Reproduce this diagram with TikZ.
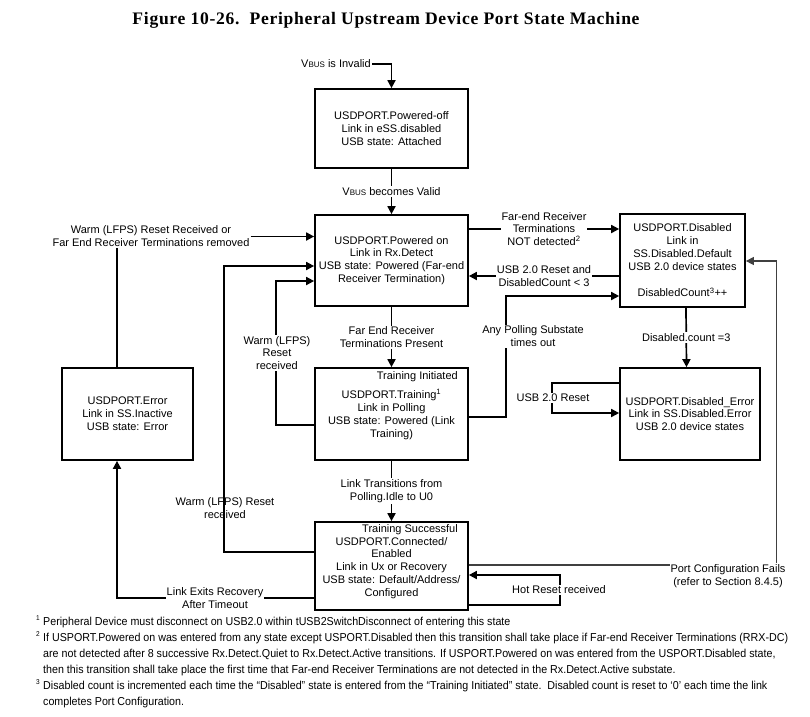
\documentclass[tikz,border=0pt]{standalone}
\usepackage{fontspec}
\setmainfont{Liberation Sans}
\newfontfamily\titlefont[LetterSpace=4]{Liberation Serif}
\newfontfamily\fnfont[FakeStretch=0.93]{Liberation Sans}
\usetikzlibrary{arrows.meta,calc}
\newcommand{\vbus}{V{\fontsize{8}{8}\selectfont BUS}}
\tikzset{
  every node/.style={font=\fontsize{11}{12.9}\selectfont},
  box/.style={draw, line width=1.7pt, inner sep=0pt, align=center},
  txt/.style={align=center, inner sep=1pt},
  lbl/.style={fill=white, align=center, inner sep=1pt},
  ln/.style={draw, line width=1.7pt},
  arr/.style={draw, line width=1.7pt, -{Triangle[length=8pt,width=8pt]}},
  thinarr/.style={draw, line width=1.1pt, draw=black!75, -{Triangle[length=8pt,width=8pt]}},
  fn/.style={font=\fnfont\fontsize{11.5}{12}\selectfont, anchor=base west, inner sep=0pt},
  fnmark/.style={font=\fnfont\fontsize{7}{7}\selectfont, anchor=base west, inner sep=0pt}
}
\begin{document}
\begin{tikzpicture}[x=1pt,y=-1pt]
\useasboundingbox (0,0) rectangle (810,716);
\fill[white] (0,0) rectangle (810,716);

% title
\node[inner sep=0pt] (title) at (386,20)
  {\resizebox{507pt}{!}{\titlefont\bfseries\fontsize{14.5}{16}\selectfont Figure 10-26.\ \ Peripheral Upstream Device Port State Machine}};

% states
\node[box, minimum width=153pt, minimum height=79pt] (off) at (391.5,128.5)
  {USDPORT.Powered-off\\Link in eSS.disabled\\USB state: Attached};
\node[box, minimum width=153pt, minimum height=91pt] (on) at (391.5,260.5)
  {USDPORT.Powered on\\Link in Rx.Detect\\USB state: Powered (Far-end\\Receiver Termination)};
\node[box, minimum width=125pt, minimum height=93pt] (dis) at (682.5,260.5)
  {USDPORT.Disabled\\Link in\\SS.Disabled.Default\\USB 2.0 device states\\[13.5pt]DisabledCount\textsuperscript{3}++};
\node[box, minimum width=131pt, minimum height=92pt] (err) at (127.5,414)
  {USDPORT.Error\\Link in SS.Inactive\\USB state: Error};
\node[box, minimum width=153pt, minimum height=92pt] (trn) at (391.5,414) {};
\node[txt] (trntext) at (391.5,414.5)
  {USDPORT.Training\textsuperscript{1}\\Link in Polling\\USB state: Powered (Link\\Training)};
\node[txt, anchor=east] (tinit) at (459,377) {Training Initiated};
\node[box, minimum width=140pt, minimum height=92pt] (derr) at (690,414)
  {USDPORT.Disabled\_Error\\Link in SS.Disabled.Error\\USB 2.0 device states};
\node[box, minimum width=153pt, minimum height=88pt] (con) at (391.5,566) {};
\node[txt] (context) at (391.5,568)
  {USDPORT.Connected/\\Enabled\\Link in Ux or Recovery\\USB state: Default/Address/\\Configured};
\node[txt, anchor=east] (tsucc) at (459,530) {Training Successful};

% helper coordinates
\coordinate (errin) at ($(err.north)+(-10.5,0)$);
\coordinate (errout) at ($(err.south)+(-10.5,0)$);

% VBUS invalid
\node[txt] (vinv) at (336,64) {\vbus{} is Invalid};
\draw[arr] (vinv.east) -| (off.north);

% off -> on
\draw[arr] (off.south) -- (on.north) node[lbl, midway] (vval) {\vbus{} becomes Valid};

% warm reset (top-left)
\node[txt] (w1) at (151,236.5) {Warm (LFPS) Reset Received or\\Far End Receiver Terminations removed};
\draw[arr] (w1.east) -- (w1.east -| on.west);
\draw[ln] (w1.south -| errin) -- (errin);

% connected -> powered on (warm reset)
\draw[arr] ($(con.west)+(0,-14)$) -- ++(-90,0) |- ($(on.west)+(0,5.5)$);
\node[txt] (w3) at (225,508.5) {Warm (LFPS) Reset\\received};

% training -> powered on (warm reset)
\draw[arr] ($(trn.west)+(0,11)$) -- ++(-38,0) |- ($(on.west)+(0,20.5)$);
\node[lbl] (w2) at (277,353) {Warm (LFPS)\\Reset\\received};

% on -> training
\draw[arr] (on.south) -- (trn.north) node[lbl, midway] (fepres) {Far End Receiver\\Terminations Present};

% on -> disabled
\draw[arr] ($(on.east)+(0,-31.5)$) -- ($(dis.west)+(0,-31.5)$)
  node[lbl, midway] (notdet) {Far-end Receiver\\Terminations\\NOT detected\textsuperscript{2}};
% disabled -> on
\draw[arr] ($(dis.west)+(0,15.5)$) -- ($(on.east)+(0,15.5)$)
  node[lbl, midway] (usbrst) {USB 2.0 Reset and\\DisabledCount < 3};

% training -> disabled (polling timeout)
\draw[arr] ($(trn.east)+(0,3)$) -- ++(37,0) |- ($(dis.west)+(0,35.5)$);
\node[lbl] (poll) at (533,336) {Any Polling Substate\\times out};

% disabled -> disabled_error
\draw[arr] ([xshift=3.5pt]dis.south) -- ([xshift=-3.5pt]derr.north)
  node[lbl, midway] (cnt3) {Disabled.count =3};

% disabled_error self loop
\draw[arr] ($(derr.west)+(0,-31)$) -- ++(-67,0) |- ($(derr.west)+(0,-1)$);
\node[lbl] (usb2r) at (553,398) {USB 2.0 Reset};

% training -> connected
\draw[arr] (trn.south) -- (con.north) node[lbl, midway] (ltr) {Link Transitions from\\Polling.Idle to U0};

% connected -> error
\draw[arr] ($(con.west)+(0,32)$) -| (errout);
\node[lbl] (lexit) at (215,598.5) {Link Exits Recovery\\After Timeout};

% hot reset loop
\draw[arr] ($(con.east)+(0,39)$) -- ++(91,0) |- ($(con.east)+(0,9)$);
\node[lbl] (hot) at (559,590) {Hot Reset received};

% port configuration fails
\draw[thinarr] ($(con.east)+(0,-1)$) -- ++(308,0) |- ($(dis.east)+(0,0.5)$);
\node[lbl] (pcf) at (728,576) {Port Configuration Fails\\(refer to Section 8.4.5)};

% footnotes
\node[fnmark] (m1) at (36,620) {1};
\node[fn] (f1) at (43,625) {Peripheral Device must disconnect on USB2.0 within tUSB2SwitchDisconnect of entering this state};
\node[fnmark] (m2) at (36,636) {2};
\node[fn] (f2a) at (43,641) {If USPORT.Powered on was entered from any state except USPORT.Disabled then this transition shall take place if Far-end Receiver Terminations (RRX-DC)};
\node[fn] (f2b) at (43,657) {are not detected after 8 successive Rx.Detect.Quiet to Rx.Detect.Active transitions. If USPORT.Powered on was entered from the USPORT.Disabled state,};
\node[fn] (f2c) at (43,673) {then this transition shall take place the first time that Far-end Receiver Terminations are not detected in the Rx.Detect.Active substate.};
\node[fnmark] (m3) at (36,684) {3};
\node[fn] (f3a) at (43,689) {Disabled count is incremented each time the “Disabled” state is entered from the “Training Initiated” state.\ \ Disabled count is reset to ‘0’ each time the link};
\node[fn] (f3b) at (43,705) {completes Port Configuration.};
\end{tikzpicture}
\end{document}
